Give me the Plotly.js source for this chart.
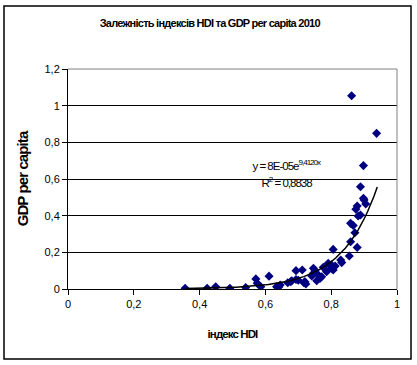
<!DOCTYPE html>
<html>
<head>
<meta charset="utf-8">
<script src="https://cdn.plot.ly/plotly-3.0.1.min.js"></script>
<style>
html,body{margin:0;padding:0;background:#fff;}
#chart{width:417px;height:365px;}
#chart .gtitle{letter-spacing:-0.75px;}
#chart .ytitle{letter-spacing:-0.9px;}
#chart .xtitle{letter-spacing:-0.9px;}
#chart .annotation-text{letter-spacing:-1px;}
</style>
</head>
<body>
<div id="chart"></div>
<script>
// HDI index values (x) and GDP per capita (y)
var hdi = [0.356,0.423,0.449,0.492,0.540,0.571,0.575,0.586,0.611,0.634,0.640,0.645,0.668,0.677,0.680,0.693,0.693,0.700,0.712,0.717,0.720,0.723,0.741,0.746,0.746,0.751,0.756,0.761,0.766,0.771,0.776,0.786,0.791,0.801,0.801,0.806,0.806,0.812,0.829,0.832,0.855,0.859,0.859,0.867,0.872,0.875,0.879,0.879,0.882,0.889,0.889,0.898,0.900,0.905,0.898,0.862,0.938];
var gdp = [0.004,0.004,0.012,0.004,0.008,0.055,0.032,0.012,0.070,0.012,0.010,0.022,0.034,0.040,0.045,0.100,0.052,0.048,0.104,0.034,0.040,0.027,0.071,0.113,0.086,0.100,0.045,0.076,0.058,0.067,0.118,0.094,0.140,0.113,0.131,0.216,0.104,0.125,0.158,0.144,0.180,0.258,0.358,0.346,0.307,0.435,0.453,0.227,0.398,0.404,0.558,0.495,0.486,0.464,0.673,1.054,0.849];

// exponential trendline from the printed equation y = 8E-05 e^(9.4120x)
var trendA = 8e-5;
var trendB = 9.412;
var trendStart = 0.356, trendEnd = 0.94, trendSteps = 60;

var xTicks = [0, 0.2, 0.4, 0.6, 0.8, 1];
var xTickText = ['0', '0,2', '0,4', '0,6', '0,8', '1'];
var yTicks = [0, 0.2, 0.4, 0.6, 0.8, 1, 1.2];
var yTickText = ['0', '0,2', '0,4', '0,6', '0,8', '1', '1,2'];

var titleText = 'Залежність індексів HDI та GDP per capita 2010';
var xTitle = 'індекс HDI';
var yTitle = 'GDP per capita';
var eqText = 'y = 8E-05e<sup>9,4120x</sup>';
var r2Text = 'R<sup>2</sup> = 0,8838';

var tx = [], ty = [];
for (var i = 0; i <= trendSteps; i++) {
  var x = trendStart + (trendEnd - trendStart) * i / trendSteps;
  tx.push(x);
  ty.push(trendA * Math.exp(trendB * x));
}

var FONT = '"Liberation Sans", Arial, sans-serif';

var data = [
  {type: 'scatter', mode: 'markers', x: hdi, y: gdp,
   marker: {symbol: 'diamond', size: 7, color: '#000080', line: {width: 0}},
   hoverinfo: 'x+y', showlegend: false},
  {type: 'scatter', mode: 'lines', x: tx, y: ty,
   line: {color: '#000000', width: 1.5}, hoverinfo: 'skip', showlegend: false}
];

var layout = {
  width: 417, height: 365,
  margin: {l: 68, r: 20, t: 69, b: 76},
  paper_bgcolor: '#ffffff', plot_bgcolor: '#ffffff',
  font: {family: FONT, color: '#000', size: 11},
  title: {text: '<b>' + titleText + '</b>', font: {family: FONT, size: 11, color: '#000'},
          x: 0.503, xref: 'container', y: 1 - 23/365, yref: 'container', xanchor: 'center', yanchor: 'middle'},
  xaxis: {range: [0, 1], tickvals: xTicks, ticktext: xTickText, showgrid: false, zeroline: false,
          showline: true, linecolor: '#000', linewidth: 1, ticks: 'outside', ticklen: 5, tickcolor: '#000',
          tickfont: {family: FONT, size: 11, color: '#000'},
          title: {text: '<b>' + xTitle + '</b>', font: {family: FONT, size: 11.5, color: '#000'}, standoff: 20}},
  yaxis: {range: [0, 1.2], tickvals: yTicks, ticktext: yTickText, showgrid: true, gridcolor: '#000', gridwidth: 1,
          zeroline: false, showline: true, linecolor: '#000', linewidth: 1, ticks: 'outside', ticklen: 5, tickcolor: '#000',
          tickfont: {family: FONT, size: 11, color: '#000'},
          title: {text: '<b>' + yTitle + '</b>', font: {family: FONT, size: 15, color: '#000'}, standoff: 12}},
  annotations: [
    {x: 0.665, y: 0.675, xref: 'x', yref: 'y', text: eqText, showarrow: false,
     font: {family: FONT, size: 11.5, color: '#000'}},
    {x: 0.665, y: 0.585, xref: 'x', yref: 'y', text: r2Text, showarrow: false,
     font: {family: FONT, size: 11.5, color: '#000'}}
  ],
  shapes: [
    {type: 'rect', xref: 'paper', yref: 'paper', x0: -0.1945, x1: 1.0426, y0: -0.318, y1: 1.286,
     line: {color: '#000', width: 1.5}, fillcolor: 'rgba(0,0,0,0)', layer: 'below'},
    {type: 'line', xref: 'paper', yref: 'paper', x0: 0, x1: 1, y0: 1, y1: 1, line: {color: '#808080', width: 1}, layer: 'above'},
    {type: 'line', xref: 'paper', yref: 'paper', x0: 1, x1: 1, y0: 0, y1: 1, line: {color: '#808080', width: 1}, layer: 'above'}
  ]
};

Plotly.newPlot('chart', data, layout, {displayModeBar: false, staticPlot: true});
</script>
</body>
</html>
